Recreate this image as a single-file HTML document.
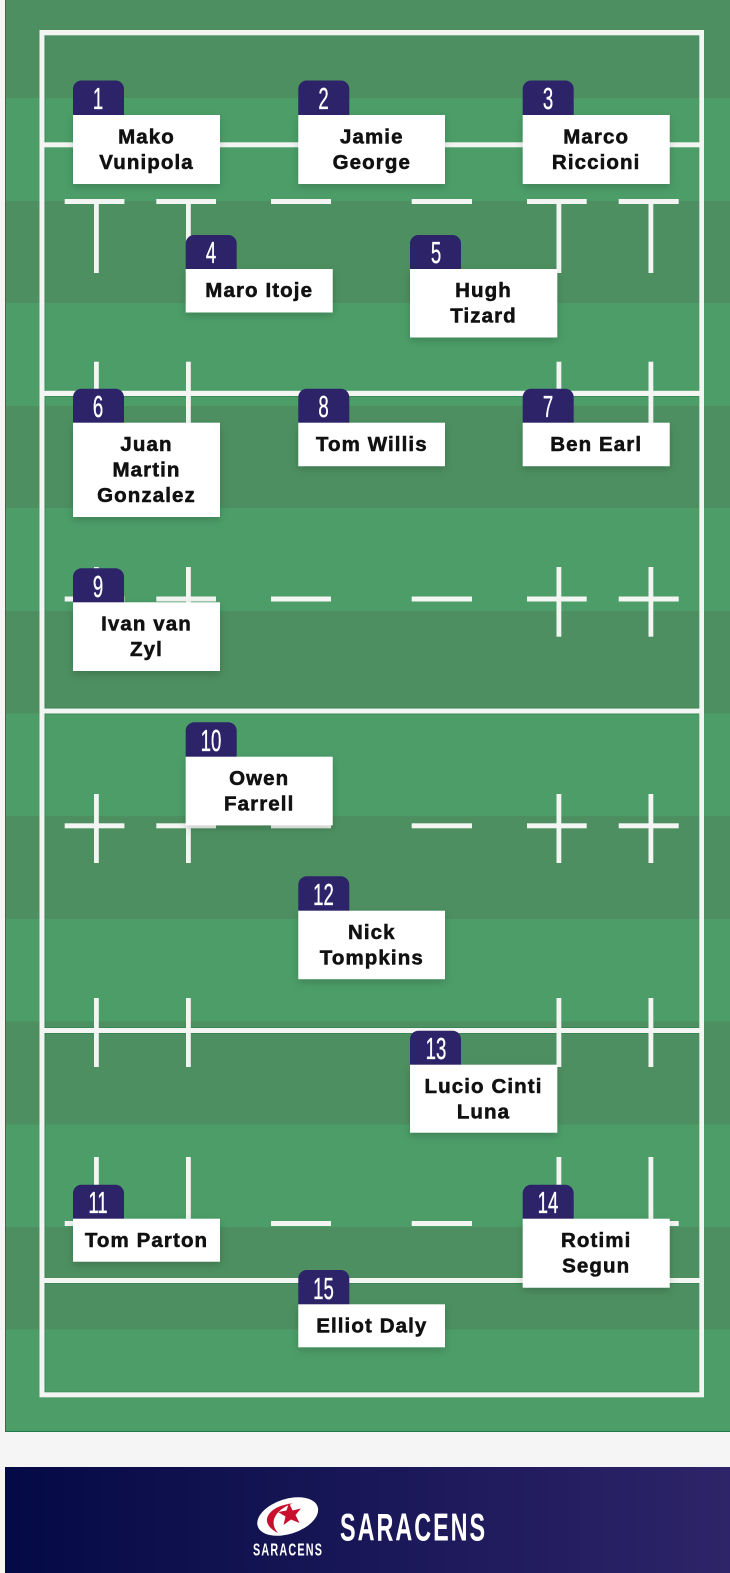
<!DOCTYPE html>
<html>
<head>
<meta charset="utf-8">
<style>
html,body{margin:0;padding:0;background:#f5f5f5;width:730px;height:1573px;overflow:hidden}
svg{display:block}
.n{font-family:"Liberation Sans",sans-serif;font-size:31px;fill:#fff;stroke:#fff;stroke-width:.35px;text-anchor:middle}
.t{font-family:"Liberation Sans",sans-serif;font-weight:700;font-size:20.5px;letter-spacing:1.1px;fill:#111;stroke:#111;stroke-width:.55px;text-anchor:middle}
.f{font-family:"Liberation Sans",sans-serif;font-weight:700;fill:#fff}
</style>
</head>
<body>
<svg width="730" height="1573" viewBox="0 0 730 1573" xmlns="http://www.w3.org/2000/svg">
<defs>
<linearGradient id="g" x1="0" x2="1" y1="0" y2="0"><stop offset="0" stop-color="#040a45"/><stop offset="1" stop-color="#2e2469"/></linearGradient>
<filter id="s" x="-20%" y="-20%" width="140%" height="150%"><feDropShadow dx="0" dy="3" stdDeviation="4" flood-color="#000" flood-opacity=".18"/></filter>
</defs>
<rect width="730" height="1573" fill="#f5f5f5"/>
<!-- pitch -->
<rect x="5" y="0" width="725" height="1432" fill="#4c9d68"/>
<g fill="#4d8f60">
<rect x="5" y="0" width="725" height="98"/>
<rect x="5" y="201" width="725" height="102"/>
<rect x="5" y="406" width="725" height="102"/>
<rect x="5" y="611" width="725" height="102.500"/>
<rect x="5" y="816" width="725" height="103"/>
<rect x="5" y="1021.500" width="725" height="103"/>
<rect x="5" y="1227" width="725" height="102.500"/>
</g>
<rect x="5" y="0" width="1" height="1432" fill="#1e7a48"/>
<rect x="5" y="1431" width="725" height="1" fill="#1e7a48"/>
<!-- dark halos -->
<g fill="#2a7a4c" opacity=".5">
<rect x="44.500" y="396" width="655" height="1"/>
<rect x="44.500" y="707.500" width="655" height="1"/>
<rect x="44.500" y="713.500" width="655" height="1"/>
<rect x="44.500" y="1027" width="655" height="1"/>
<rect x="44.500" y="1033" width="655" height="1"/>
<rect x="44.500" y="1283" width="655" height="1"/>
<rect x="44.500" y="1391.500" width="655" height="1"/>
<rect x="699" y="35" width="1" height="1357"/>
<rect x="44.500" y="35" width="1" height="1357"/>
</g>
<!-- lines -->
<g fill="#f2f5f2">
<rect x="39.500" y="30" width="664.500" height="5.300"/>
<rect x="39.500" y="1392.300" width="664.500" height="5"/>
<rect x="39.500" y="30" width="5" height="1367"/>
<rect x="699.300" y="30" width="4.700" height="1367"/>
<rect x="39.500" y="142.300" width="664.500" height="5"/>
<rect x="39.500" y="390.800" width="664.500" height="5.200"/>
<rect x="39.500" y="708.500" width="664.500" height="5"/>
<rect x="39.500" y="1028" width="664.500" height="5"/>
<rect x="39.500" y="1278" width="664.500" height="5"/>
<!-- dashes -->
<rect x="64.700" y="199" width="59.700" height="5"/><rect x="156.300" y="199" width="59.700" height="5"/><rect x="271" y="199" width="60" height="5"/><rect x="411.700" y="199" width="60.300" height="5"/><rect x="527" y="199" width="59.700" height="5"/><rect x="618.700" y="199" width="60" height="5"/>
<rect x="64.700" y="596.500" width="59.700" height="5"/><rect x="156.300" y="596.500" width="59.700" height="5"/><rect x="271" y="596.500" width="60" height="5"/><rect x="411.700" y="596.500" width="60.300" height="5"/><rect x="527" y="596.500" width="59.700" height="5"/><rect x="618.700" y="596.500" width="60" height="5"/>
<rect x="64.700" y="823.300" width="59.700" height="5"/><rect x="156.300" y="823.300" width="59.700" height="5"/><rect x="271" y="823.300" width="60" height="5"/><rect x="411.700" y="823.300" width="60.300" height="5"/><rect x="527" y="823.300" width="59.700" height="5"/><rect x="618.700" y="823.300" width="60" height="5"/>
<rect x="64.700" y="1221" width="59.700" height="5"/><rect x="156.300" y="1221" width="59.700" height="5"/><rect x="271" y="1221" width="60" height="5"/><rect x="411.700" y="1221" width="60.300" height="5"/><rect x="527" y="1221" width="59.700" height="5"/><rect x="618.700" y="1221" width="60" height="5"/>
<!-- verticals -->
<rect x="94" y="204" width="4.800" height="69"/><rect x="186" y="204" width="4.800" height="69"/><rect x="556.500" y="204" width="4.800" height="69"/><rect x="648.500" y="204" width="4.800" height="69"/>
<rect x="94" y="361.700" width="4.800" height="69"/><rect x="186" y="361.700" width="4.800" height="69"/><rect x="556.500" y="361.700" width="4.800" height="69"/><rect x="648.500" y="361.700" width="4.800" height="69"/>
<rect x="94" y="567" width="4.800" height="69.700"/><rect x="186" y="567" width="4.800" height="69.700"/><rect x="556.500" y="567" width="4.800" height="69.700"/><rect x="648.500" y="567" width="4.800" height="69.700"/>
<rect x="94" y="794" width="4.800" height="69"/><rect x="186" y="794" width="4.800" height="69"/><rect x="556.500" y="794" width="4.800" height="69"/><rect x="648.500" y="794" width="4.800" height="69"/>
<rect x="94" y="998" width="4.800" height="69"/><rect x="186" y="998" width="4.800" height="69"/><rect x="556.500" y="998" width="4.800" height="69"/><rect x="648.500" y="998" width="4.800" height="69"/>
<rect x="94" y="1157" width="4.800" height="66"/><rect x="186" y="1157" width="4.800" height="66"/><rect x="556.500" y="1157" width="4.800" height="66"/><rect x="648.500" y="1157" width="4.800" height="66"/>
</g>
<!-- tabs -->
<g fill="#2d2369">
<path d="M73 115V89a8.500 8.500 0 0 1 8.500-8.500h34a8.500 8.500 0 0 1 8.500 8.500V115z"/>
<path d="M298.300 115V89a8.500 8.500 0 0 1 8.500-8.500h34a8.500 8.500 0 0 1 8.500 8.500V115z"/>
<path d="M522.700 115V89a8.500 8.500 0 0 1 8.500-8.500h34a8.500 8.500 0 0 1 8.500 8.500V115z"/>
<path d="M185.700 269V243.500a8.500 8.500 0 0 1 8.500-8.500h34a8.500 8.500 0 0 1 8.500 8.500V269z"/>
<path d="M410 269V243.500a8.500 8.500 0 0 1 8.500-8.500h34a8.500 8.500 0 0 1 8.500 8.500V269z"/>
<path d="M73 423V397.200a8.500 8.500 0 0 1 8.500-8.500h34a8.500 8.500 0 0 1 8.500 8.500V423z"/>
<path d="M298.300 423V397.200a8.500 8.500 0 0 1 8.500-8.500h34a8.500 8.500 0 0 1 8.500 8.500V423z"/>
<path d="M522.700 423V397.200a8.500 8.500 0 0 1 8.500-8.500h34a8.500 8.500 0 0 1 8.500 8.500V423z"/>
<path d="M73 603V576.800a8.500 8.500 0 0 1 8.500-8.500h34a8.500 8.500 0 0 1 8.500 8.500V603z"/>
<path d="M185.700 757V730.800a8.500 8.500 0 0 1 8.500-8.500h34a8.500 8.500 0 0 1 8.500 8.500V757z"/>
<path d="M298.300 911V884.800a8.500 8.500 0 0 1 8.500-8.500h34a8.500 8.500 0 0 1 8.500 8.500V911z"/>
<path d="M410 1065V1039.200a8.500 8.500 0 0 1 8.500-8.500h34a8.500 8.500 0 0 1 8.500 8.500V1065z"/>
<path d="M73 1219V1193.200a8.500 8.500 0 0 1 8.500-8.500h34a8.500 8.500 0 0 1 8.500 8.500V1219z"/>
<path d="M522.700 1219V1193.200a8.500 8.500 0 0 1 8.500-8.500h34a8.500 8.500 0 0 1 8.500 8.500V1219z"/>
<path d="M298.300 1305V1278.500a8.500 8.500 0 0 1 8.500-8.500h34a8.500 8.500 0 0 1 8.500 8.500V1305z"/>
</g>
<!-- cards -->
<g fill="#fff" filter="url(#s)">
<rect x="73" y="115" width="147" height="69"/>
<rect x="298.300" y="115" width="146.700" height="69"/>
<rect x="522.700" y="115" width="147" height="69"/>
<rect x="185.700" y="269" width="147" height="43.500"/>
<rect x="410" y="269" width="147.300" height="68.500"/>
<rect x="73" y="422.700" width="147" height="94.300"/>
<rect x="298.300" y="422.700" width="146.700" height="43.500"/>
<rect x="522.700" y="422.700" width="147" height="43.500"/>
<rect x="73" y="602.300" width="147" height="68.700"/>
<rect x="185.700" y="756.700" width="147" height="68.700"/>
<rect x="298.300" y="910.700" width="146.700" height="68.500"/>
<rect x="410" y="1064.700" width="147.300" height="68"/>
<rect x="73" y="1218.700" width="147" height="43"/>
<rect x="522.700" y="1218.700" width="147" height="69"/>
<rect x="298.300" y="1304.300" width="146.700" height="43"/>
</g>
<!-- numbers -->
<g>
<text class="n" transform="translate(98,109) scale(.6,1)">1</text>
<text class="n" transform="translate(323.500,109) scale(.6,1)">2</text>
<text class="n" transform="translate(548,109) scale(.6,1)">3</text>
<text class="n" transform="translate(211,263) scale(.6,1)">4</text>
<text class="n" transform="translate(436,263) scale(.6,1)">5</text>
<text class="n" transform="translate(98,417) scale(.6,1)">6</text>
<text class="n" transform="translate(323.500,417) scale(.6,1)">8</text>
<text class="n" transform="translate(548,417) scale(.6,1)">7</text>
<text class="n" transform="translate(98,597) scale(.6,1)">9</text>
<text class="n" transform="translate(211,751) scale(.6,1)">10</text>
<text class="n" transform="translate(323.500,905) scale(.6,1)">12</text>
<text class="n" transform="translate(436,1059) scale(.6,1)">13</text>
<text class="n" transform="translate(98,1213) scale(.6,1)">11</text>
<text class="n" transform="translate(548,1213) scale(.6,1)">14</text>
<text class="n" transform="translate(323.500,1299) scale(.6,1)">15</text>
</g>
<!-- names -->
<text class="t" x="146.500" y="143.500">Mako</text><text class="t" x="146.500" y="169">Vunipola</text>
<text class="t" x="371.800" y="143.500">Jamie</text><text class="t" x="371.800" y="169">George</text>
<text class="t" x="596.200" y="143.500">Marco</text><text class="t" x="596.200" y="169">Riccioni</text>
<text class="t" x="259.200" y="297">Maro Itoje</text>
<text class="t" x="483.500" y="297">Hugh</text><text class="t" x="483.500" y="322.500">Tizard</text>
<text class="t" x="146.500" y="451">Juan</text><text class="t" x="146.500" y="476.500">Martin</text><text class="t" x="146.500" y="502">Gonzalez</text>
<text class="t" x="371.800" y="451">Tom Willis</text>
<text class="t" x="596.200" y="451">Ben Earl</text>
<text class="t" x="146.500" y="630.500">Ivan van</text><text class="t" x="146.500" y="656">Zyl</text>
<text class="t" x="259.200" y="785">Owen</text><text class="t" x="259.200" y="810.500">Farrell</text>
<text class="t" x="371.800" y="939">Nick</text><text class="t" x="371.800" y="964.500">Tompkins</text>
<text class="t" x="483.500" y="1093">Lucio Cinti</text><text class="t" x="483.500" y="1118.500">Luna</text>
<text class="t" x="146.500" y="1247">Tom Parton</text>
<text class="t" x="596.200" y="1247">Rotimi</text><text class="t" x="596.200" y="1272.500">Segun</text>
<text class="t" x="371.800" y="1332.500">Elliot Daly</text>
<!-- footer -->
<rect x="5" y="1467" width="725" height="106" fill="url(#g)"/>
<ellipse cx="287.700" cy="1516.500" rx="31.500" ry="17.500" transform="rotate(-18 287.700 1516.500)" fill="#fff"/>
<path d="M293 1503.500C270 1505 256 1522 278 1533 268 1522 276 1509 293 1503.500z" fill="#c8102e"/>
<polygon points="289,1503 292.600,1510.500 301,1508.500 295.500,1515 299.500,1523 291,1519.500 283.500,1525 285.500,1516.500 278,1512 286.500,1510.500" fill="#c8102e"/>
<text class="f" transform="translate(253,1555.700) scale(.6,1)" font-size="18" letter-spacing="2">SARACENS</text>
<text class="f" transform="translate(340,1540.700) scale(.6,1)" font-size="39" letter-spacing="3.300">SARACENS</text>
</svg>
</body>
</html>
